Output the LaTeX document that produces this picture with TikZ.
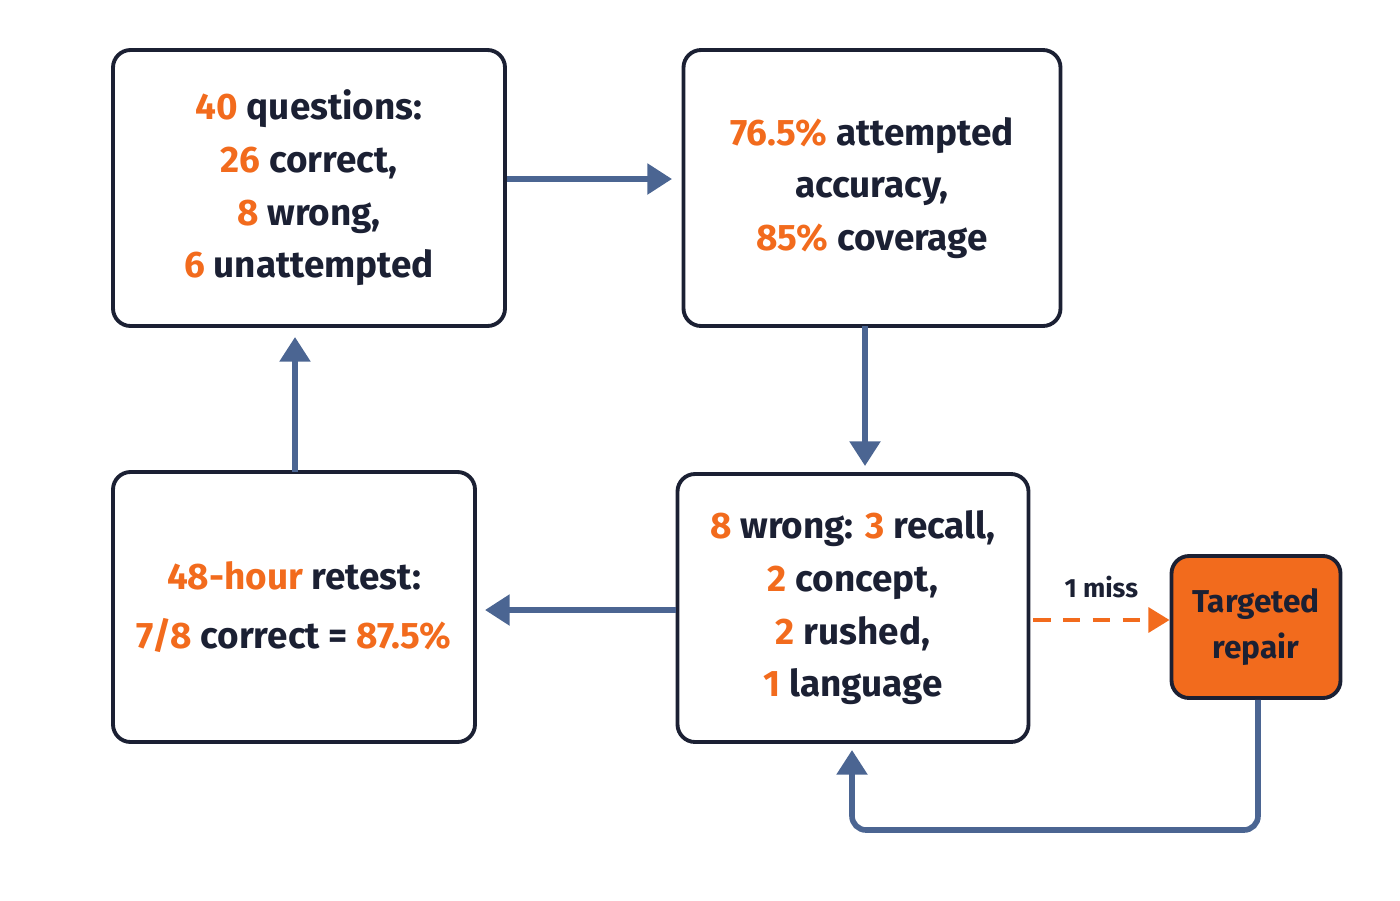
\documentclass[tikz,border=0pt]{standalone}
\usepackage{fontspec}
\setmainfont{Fira Sans}
\usetikzlibrary{arrows.meta}
\definecolor{navy}{HTML}{1B2033}
\definecolor{accent}{HTML}{F26B1D}
\definecolor{link}{HTML}{4B6592}
\newcommand{\hl}[1]{\textcolor{accent}{#1}}
\begin{document}
\begin{tikzpicture}[x=0.02cm, y=-0.02cm,
  box/.style={draw=navy, line width=2.2pt, rounded corners=10pt, align=center, text=navy,
    font=\fontsize{21}{30}\selectfont\bfseries},
  flow/.style={-{Triangle[length=14pt,width=17pt]}, line width=3.2pt, color=link}]

  \useasboundingbox (0,0) rectangle (1400,900);

  % Boxes
  \node[box, minimum width=392*0.02cm, minimum height=276*0.02cm] (count) at (309,188)
    {\hl{40} questions:\\ \hl{26} correct,\\ \hl{8} wrong,\\ \hl{6} unattempted};
  \node[box, minimum width=377*0.02cm, minimum height=276*0.02cm] (rate) at (872,188)
    {\hl{76.5\%} attempted\\ accuracy,\\ \hl{85\%} coverage};
  \node[box, minimum width=351*0.02cm, minimum height=268*0.02cm] (errors) at (853,608)
    {\hl{8} wrong: \hl{3} recall,\\ \hl{2} concept,\\ \hl{2} rushed,\\ \hl{1} language};
  \node[box, minimum width=362*0.02cm, minimum height=270*0.02cm] (retest) at (294,607)
    {\hl{48-hour} retest:\\[4pt] \hl{7/8} correct = \hl{87.5\%}};
  \node[box, fill=accent, minimum width=169*0.02cm, minimum height=142*0.02cm,
    font=\fontsize{18}{26}\selectfont\bfseries] (repair) at (1256,627) {Targeted\\ repair};

  % Main cycle
  \draw[flow] (count.east |- 0,179) -- (672,179);
  \draw[flow] (865,326) -- (865,466);
  \draw[flow] (errors.west |- 0,610) -- (485,610);
  \draw[flow] (295,472) -- (295,337);

  % Repair loop
  \draw[-{Triangle[length=12pt,width=14pt]}, line width=2.4pt, color=accent, dash pattern=on 10pt off 7pt]
    (1033,620) -- (repair.west |- 0,620) node[midway, above=8pt, text=navy,
    font=\fontsize{15}{18}\selectfont\bfseries] {1 miss};
  \draw[flow, rounded corners=8pt] (repair.south -| 1258,0) -- (1258,830) -- (852,830) -- (852,750);

\end{tikzpicture}
\end{document}
